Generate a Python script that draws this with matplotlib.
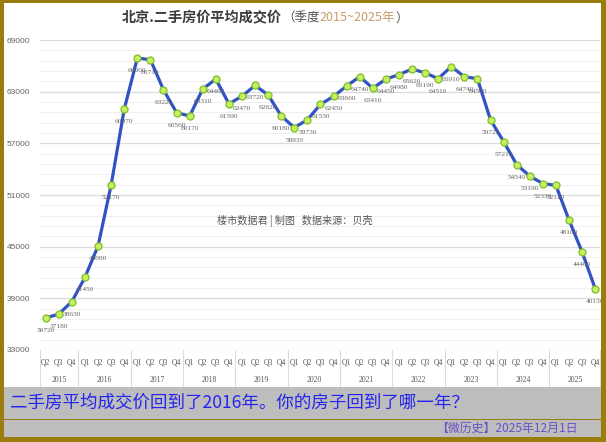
import matplotlib

matplotlib.use("Agg")
import matplotlib.pyplot as plt
import matplotlib.transforms as mtransforms
from matplotlib.patches import Rectangle
from matplotlib.lines import Line2D
import numpy as np

CJK = ["Noto Sans CJK SC", "DejaVu Sans"]
SERIF = "Liberation Serif"

# --- data ---
YEARS = ["2015", "2016", "2017", "2018", "2019", "2020", "2021", "2022", "2023", "2024", "2025"]
QUARTERS = (["Q2", "Q3", "Q4"] + ["Q1", "Q2", "Q3", "Q4"] * 10)
PRICES = [
    36720, 37180, 38630,
    41450, 45090, 52170, 60970,
    66900, 66710, 63220, 60560,
    60170, 63310, 64460, 61590,
    62470, 63720, 62620, 60180,
    58830, 59730, 61530, 62450,
    63660, 64740, 63410, 64450,
    64980, 65620, 65190, 64510,
    65910, 64740, 64500, 59720,
    57210, 54540, 53190, 52330,
    52110, 48100, 44400, 40130,
]
Y_TICKS = [33000, 39000, 45000, 51000, 57000, 63000, 69000]

W, H = 606, 442
BORDER = "#9B7D0E"
BAND = "#BDBDBD"
LINE = "#3152C4"
MARK_FACE = "#C6F060"
MARK_EDGE = "#86C232"

fig = plt.figure(figsize=(W / 100, H / 100), dpi=100)
fig.patch.set_facecolor("white")

ax = fig.add_axes([40 / W, 1 - 350 / H, 560 / W, 310 / H])
ax.set_facecolor("white")
x = np.arange(len(PRICES))
ax.set_xlim(-0.44, 42.37)
ax.set_ylim(33000, 69000)

ax.set_yticks(Y_TICKS)
ax.set_yticklabels([str(v) for v in Y_TICKS], fontsize=6, color="#666666", family="Liberation Sans")
ax.set_yticks(np.arange(33000, 69001, 1200), minor=True)
ax.tick_params(axis="y", which="both", length=0, pad=7)
ax.grid(axis="y", which="major", color="#DCDCDC", linewidth=0.9)
ax.grid(axis="y", which="minor", color="#EFEFEF", linewidth=0.7)
ax.set_xticks([])
for s in ax.spines.values():
    s.set_visible(False)
ax.set_axisbelow(True)

ax.plot(x, PRICES, color=LINE, linewidth=2.3, zorder=3,
        marker="o", markersize=5, markerfacecolor=MARK_FACE, markeredgecolor=MARK_EDGE,
        markeredgewidth=1.0)

for xi, v in zip(x, PRICES):
    ax.annotate(str(v), (xi, v), xytext=(0, -9), textcoords="offset points",
                ha="center", va="center", fontsize=5.3, color="#666666", family=SERIF,
                zorder=4)

# two-level category axis
trans = mtransforms.blended_transform_factory(ax.transData, ax.transAxes)
px = 1 / 310  # one pixel in axes-y units
for xi, q in zip(x, QUARTERS):
    ax.text(xi, -13 * px, q, transform=trans, ha="center", va="center",
            fontsize=5.5, color="#555555", family=SERIF, clip_on=False)
start = 0
for i, yr in enumerate(YEARS):
    n = 3 if i == 0 else 4
    mid = start + (n - 1) / 2
    ax.text(mid, -30 * px, yr, transform=trans, ha="center", va="center",
            fontsize=5.5, color="#555555", family=SERIF, clip_on=False)
    sep = start - 0.5 if i > 0 else -0.44
    ax.add_line(Line2D([sep, sep], [0, -38 * px], transform=trans, color="#DCDCDC",
                       linewidth=0.8, clip_on=False))
    start += n
ax.add_line(Line2D([42.37, 42.37], [0, -38 * px], transform=trans, color="#DCDCDC",
                   linewidth=0.8, clip_on=False))

# watermark credit
fig.text(217 / W, 1 - 221 / H, "楼市数据君 | 制图   数据来源：贝壳", ha="left", va="center",
         fontsize=7.3, color="#555555", family=CJK)

# title built from coloured pieces
renderer = fig.canvas.get_renderer()
pieces = [
    ("北京.二手房价平均成交价", "#3C3C3C", 10.2, "bold"),
    ("（季度", "#555555", 9, "normal"),
    ("2015~2025年", "#C99A6C", 9, "normal"),
    ("）", "#555555", 9, "normal"),
]
cur = 122
for txt, col, fs, wt in pieces:
    t = fig.text(cur / W, 1 - 18 / H, txt, ha="left", va="center", fontsize=fs,
                 color=col, weight=wt, family=CJK)
    bb = t.get_window_extent(renderer)
    cur += bb.width

# bottom band and frame
fig.patches.append(Rectangle((0, 0), 1, 55 / H, transform=fig.transFigure,
                             facecolor=BAND, edgecolor="none", zorder=5))
fig.patches.append(Rectangle((0, 1 - 420 / H), 1, 1.5 / H, transform=fig.transFigure,
                             facecolor=BORDER, edgecolor="none", zorder=6))
for rect in [(0, 0, 3.5 / W, 1), (1 - 5.5 / W, 0, 5.5 / W, 1),
             (0, 1 - 3 / H, 1, 3 / H), (0, 0, 1, 5 / H)]:
    fig.patches.append(Rectangle(rect[:2], rect[2], rect[3], transform=fig.transFigure,
                                 facecolor=BORDER, edgecolor="none", zorder=7))

fig.text(10 / W, 1 - 403 / H, "二手房平均成交价回到了2016年。你的房子回到了哪一年？",
         ha="left", va="center", fontsize=12.6, color="#2424F0", family=CJK, zorder=8)
fig.text(578 / W, 1 - 428 / H, "【微历史】2025年12月1日", ha="right", va="center",
         fontsize=8.6, color="#6A50C8", family=CJK, zorder=8)

fig.savefig("out.png", dpi=100)
